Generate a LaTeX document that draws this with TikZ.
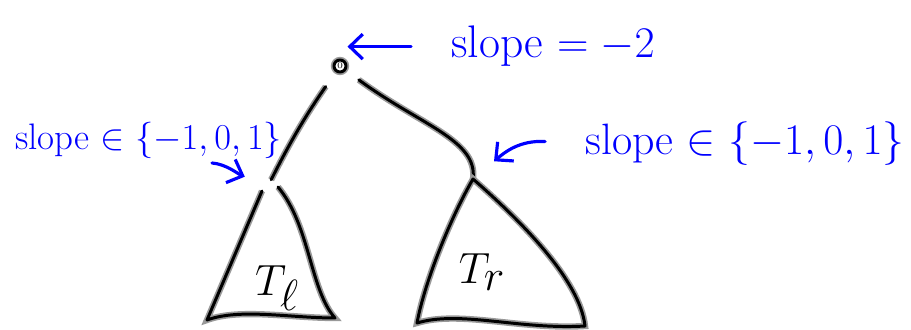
\documentclass[tikz,border=0pt]{standalone}
\usetikzlibrary{arrows.meta,positioning}

\begin{document}
\begin{tikzpicture}[x=0.02cm,y=-0.02cm,
  >={Straight Barb[length=2.6mm,width=5mm]},
  ink/.style={line width=1.7pt,line cap=round,line join=round,
    preaction={draw=black!40,line width=3.6pt}},
  pen/.style={draw=blue,line width=1.8pt,line cap=round,line join=round},
  note/.style={text=blue,inner sep=0pt,anchor=base west}]
\useasboundingbox (0,0) rectangle (911,330);

% ---- tree
\node[circle,ink,draw,fill=white,inner sep=0pt,minimum size=0.24cm,font=\tiny] (root) at (340,66) {0};
\coordinate (tl) at (268,186);
\coordinate (tr) at (473,179);
\draw[ink,shorten <=10pt,shorten >=4pt] (root) to[bend right=4] (tl);
\draw[ink,shorten <=9pt] (root) .. controls (420,125) and (478,140) .. (tr);

% ---- subtrees
\draw[ink] (262,191) -- (207,320) .. controls (240,308) and (290,318) .. (335,318)
  .. controls (310,290) and (310,225) .. (278,187);
\draw[ink] (tr) .. controls (452,215) and (425,280) .. (417,323)
  .. controls (460,310) and (520,330) .. (585,326)
  .. controls (580,280) and (520,220) .. cycle;
\node[font=\fontsize{34}{40}\selectfont] (Tl) at (277,288) {$T_\ell$};
\node[font=\fontsize{34}{40}\selectfont] (Tr) at (482,272) {$T_r$};

% ---- slope notes
\node[note,font=\fontsize{26}{30}\selectfont] (top) at (451,58) {slope $=-2$};
\node[note,font=\fontsize{21}{25}\selectfont] (lslope) at (15,150) {slope $\in\{-1,0,1\}$};
\node[note,font=\fontsize{25}{30}\selectfont] (rslope) at (585,155) {slope $\in\{-1,0,1\}$};
\coordinate (lfrom) at (212,163);
\draw[pen,->,shorten <=0.8cm] (top.west) -- (root.east |- top.west);
\draw[pen,->,shorten >=0.5cm] (lfrom) .. controls (226,164) and (238,174) .. (tl);
\draw[pen,->,shorten <=0.8cm,shorten >=0.55cm] (rslope.west) .. controls (520,140) and (505,152) .. (tr);
\end{tikzpicture}
\end{document}
